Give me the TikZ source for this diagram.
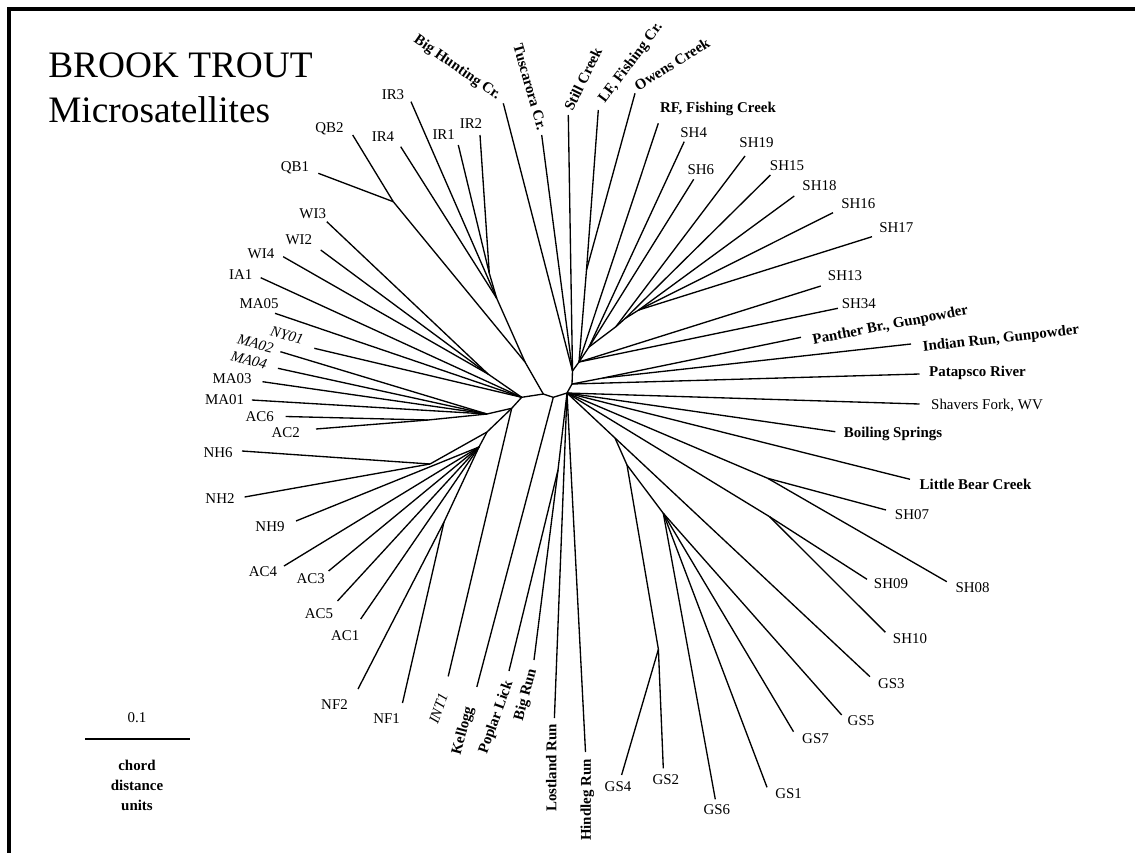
\documentclass[tikz,border=0pt]{standalone}
\usepackage{fontspec}
\setmainfont{Liberation Serif}
\usetikzlibrary{positioning}

\begin{document}
\begin{tikzpicture}[
    x=0.75pt, y=-0.75pt,
    branch/.style={line width=1pt, line join=round},
    lbl/.style={inner sep=0pt, font=\fontsize{11.2}{13}\selectfont},
    blbl/.style={lbl, font=\fontsize{11.2}{13}\selectfont\bfseries},
    ilbl/.style={lbl, font=\fontsize{11.2}{13}\selectfont\itshape},
    ttl/.style={inner sep=0pt, anchor=base west, font=\fontsize{28}{34}\selectfont}
]
    \useasboundingbox (0,0) rectangle (1135,853);
    \draw[line width=3pt] (9,853) -- (9,9) -- (1135,9);

    \node[ttl] (title) at (48,77) {BROOK TROUT};
    \node[ttl] (subtitle) at (48,122) {Microsatellites};

    % scale bar
    \node[lbl] (unit) at (137,718) {0.1};
    \coordinate (barl) at (85,739);
    \coordinate (barr) at (190,739);
    \draw[branch] (barl) -- (barr);
    \node[blbl, align=center, font=\fontsize{11.2}{15}\selectfont\bfseries] (units) at (137,785) {chord\\distance\\units};

    % inner nodes
    \coordinate (a) at (521.7,397.3);
    \coordinate (b) at (543.3,394);
    \coordinate (c) at (553.3,397.3);
    \coordinate (d) at (567,393);
    \coordinate (e) at (572,384);
    \coordinate (f) at (572.5,371);
    \coordinate (g) at (525,362);
    \coordinate (qb) at (393.3,201.7);
    \coordinate (ir) at (496.7,298.3);
    \coordinate (ir12) at (489.3,273.3);
    \coordinate (wi) at (488,374);
    \coordinate (l1) at (511.7,408.3);
    \coordinate (ma) at (487,414);
    \coordinate (ac26) at (428,420);
    \coordinate (n1) at (487,432);
    \coordinate (nh) at (430,464);
    \coordinate (n2) at (479,447);
    \coordinate (nf) at (444,522);
    \coordinate (pb) at (558,470);
    \coordinate (lo) at (586.5,270);
    \coordinate (f2) at (579,362);
    \coordinate (s1) at (589,347);
    \coordinate (s2) at (615.9,326.7);
    \coordinate (s3) at (625.4,318.3);
    \coordinate (s4) at (638.7,310);
    \coordinate (pi) at (603,378);
    \coordinate (sh78) at (767.7,478.3);
    \coordinate (sh910) at (769.6,516.7);
    \coordinate (g1) at (615,438);
    \coordinate (g2) at (627,465);
    \coordinate (g3) at (663.3,513.3);
    \coordinate (g24) at (658.4,649.3);

    \draw[branch] (a) -- (b) -- (c) -- (d) -- (e) -- (f);
    \draw[branch] (a) -- (wi);
    \draw[branch] (a) -- (l1);
    \draw[branch] (b) -- (g);
    \draw[branch] (g) -- (qb);
    \draw[branch] (g) -- (ir) -- (ir12);
    \draw[branch] (l1) -- (ma) -- (ac26);
    \draw[branch] (l1) -- (n1) -- (nh);
    \draw[branch] (n1) -- (n2) -- (nf);
    \draw[branch] (d) -- (pb);
    \draw[branch] (f) -- (f2) -- (lo);
    \draw[branch] (f2) -- (s1) -- (s2) -- (s3) -- (s4);
    \draw[branch] (e) -- (pi);
    \draw[branch] (d) -- (sh78);
    \draw[branch] (d) -- (sh910);
    \draw[branch] (d) -- (g1) -- (g2) -- (g3);
    \draw[branch] (g2) -- (g24);

    % upper left
    \coordinate (t-qb1) at (318.3,173.3); \node[lbl] (qb1) at (295,168) {QB1}; \draw[branch] (qb) -- (t-qb1);
    \coordinate (t-qb2) at (352.7,135); \node[lbl] (qb2) at (329.5,128.3) {QB2}; \draw[branch] (qb) -- (t-qb2);
    \coordinate (t-ir3) at (411,101.7); \node[lbl] (ir3) at (393,94.3) {IR3}; \draw[branch] (ir) -- (t-ir3);
    \coordinate (t-ir4) at (400.7,146.7); \node[lbl] (ir4) at (383,136.7) {IR4}; \draw[branch] (ir) -- (t-ir4);
    \coordinate (t-ir1) at (458.3,145); \node[lbl] (ir1) at (443.7,135) {IR1}; \draw[branch] (ir12) -- (t-ir1);
    \coordinate (t-ir2) at (480,135); \node[lbl] (ir2) at (471,123.3) {IR2}; \draw[branch] (ir12) -- (t-ir2);
    \coordinate (t-wi3) at (326.8,221.7); \node[lbl] (wi3) at (312.7,213.3) {WI3}; \draw[branch] (wi) -- (t-wi3);
    \coordinate (t-wi2) at (320.7,250); \node[lbl] (wi2) at (298.8,240) {WI2}; \draw[branch] (wi) -- (t-wi2);
    \coordinate (t-wi4) at (283.2,256.7); \node[lbl] (wi4) at (261,254) {WI4}; \draw[branch] (wi) -- (t-wi4);
    \coordinate (t-ia1) at (260.7,277.7); \node[lbl] (ia1) at (240.8,274.3) {IA1}; \draw[branch] (a) -- (t-ia1);
    \coordinate (t-ma05) at (275,313.3); \node[lbl] (ma05) at (259,303.3) {MA05}; \draw[branch] (a) -- (t-ma05);
    \coordinate (t-ny01) at (314.3,348.3); \node[ilbl, rotate=-15] (ny01) at (287,335.5) {NY01}; \draw[branch] (a) -- (t-ny01);
    \coordinate (t-ma02) at (280.4,351.7); \node[ilbl, rotate=-15] (ma02) at (255.4,343.5) {MA02}; \draw[branch] (ma) -- (t-ma02);
    \coordinate (t-ma04) at (277.9,368.3); \node[ilbl, rotate=-15] (ma04) at (249,360) {MA04}; \draw[branch] (ma) -- (t-ma04);
    \coordinate (t-ma03) at (262.5,381.7); \node[lbl] (ma03) at (232,378.3) {MA03}; \draw[branch] (ma) -- (t-ma03);
    \coordinate (t-ma01) at (251.8,400); \node[lbl] (ma01) at (224.5,400) {MA01}; \draw[branch] (ma) -- (t-ma01);
    \coordinate (t-ac6) at (285.7,416.5); \node[lbl] (ac6) at (259.8,416.5) {AC6}; \draw[branch] (ac26) -- (t-ac6);
    \coordinate (t-ac2) at (316,429); \node[lbl] (ac2) at (285.7,433) {AC2}; \draw[branch] (ac26) -- (t-ac2);

    % lower left
    \coordinate (t-nh6) at (242,451); \node[lbl] (nh6) at (218.2,453) {NH6}; \draw[branch] (nh) -- (t-nh6);
    \coordinate (t-nh2) at (244.6,497); \node[lbl] (nh2) at (220,498.6) {NH2}; \draw[branch] (nh) -- (t-nh2);
    \coordinate (t-nh9) at (296,521); \node[lbl] (nh9) at (270,527) {NH9}; \draw[branch] (n2) -- (t-nh9);
    \coordinate (t-ac4) at (284,566); \node[lbl] (ac4) at (263,571.8) {AC4}; \draw[branch] (n2) -- (t-ac4);
    \coordinate (t-ac3) at (328.6,571); \node[lbl] (ac3) at (310.7,579) {AC3}; \draw[branch] (n2) -- (t-ac3);
    \coordinate (t-ac5) at (337.5,601); \node[lbl] (ac5) at (319,614) {AC5}; \draw[branch] (n2) -- (t-ac5);
    \coordinate (t-ac1) at (360.7,619); \node[lbl] (ac1) at (345.2,635.4) {AC1}; \draw[branch] (n2) -- (t-ac1);
    \coordinate (t-nf2) at (358,689); \node[lbl] (nf2) at (334.5,704.6) {NF2}; \draw[branch] (nf) -- (t-nf2);
    \coordinate (t-nf1) at (402.5,703); \node[lbl] (nf1) at (386.6,718.6) {NF1}; \draw[branch] (nf) -- (t-nf1);
    \coordinate (t-int1) at (448.2,676.4); \node[ilbl, rotate=70] (int1) at (438.4,708.6) {INT1}; \draw[branch] (l1) -- (t-int1);
    \coordinate (t-kel) at (476.8,687); \node[blbl, rotate=75] (kel) at (463.4,731) {Kellogg}; \draw[branch] (c) -- (t-kel);
    \coordinate (t-pop) at (509,671); \node[blbl, rotate=70] (pop) at (496.4,717.5) {Poplar Lick}; \draw[branch] (pb) -- (t-pop);
    \coordinate (t-big) at (534,660); \node[blbl, rotate=75] (big) at (526,695) {Big Run}; \draw[branch] (pb) -- (t-big);
    \coordinate (t-los) at (554.4,718); \node[blbl, rotate=90] (los) at (551.4,768) {Lostland Run}; \draw[branch] (d) -- (t-los);
    \coordinate (t-hin) at (585.5,752); \node[blbl, rotate=90] (hin) at (587.4,800) {Hindleg Run}; \draw[branch] (d) -- (t-hin);

    % top
    \coordinate (t-bhc) at (503.3,103.3); \node[blbl, rotate=-35] (bhc) at (457,68) {Big Hunting Cr.}; \draw[branch] (f) -- (t-bhc);
    \coordinate (t-tus) at (541.7,135); \node[blbl, rotate=-74] (tus) at (530,87) {Tuscarora Cr.}; \draw[branch] (f) -- (t-tus);
    \coordinate (t-stc) at (568.3,115); \node[blbl, rotate=64] (stc) at (583,79) {Still Creek}; \draw[branch] (f) -- (t-stc);
    \coordinate (t-lfc) at (598.3,110); \node[blbl, rotate=53] (lfc) at (631,63) {LF, Fishing Cr.}; \draw[branch] (lo) -- (t-lfc);
    \coordinate (t-owc) at (635,93.3); \node[blbl, rotate=32] (owc) at (672,64) {Owens Creek}; \draw[branch] (lo) -- (t-owc);
    \coordinate (t-rfc) at (658.3,123.3); \node[blbl] (rfc) at (718,109) {RF, Fishing Creek}; \draw[branch] (f2) -- (t-rfc);

    % upper right
    \coordinate (t-sh4) at (684.2,141.7); \node[lbl] (sh4) at (693.7,132.3) {SH4}; \draw[branch] (s1) -- (t-sh4);
    \coordinate (t-sh6) at (693.7,179.3); \node[lbl] (sh6) at (700.8,170) {SH6}; \draw[branch] (s1) -- (t-sh6);
    \coordinate (t-sh19) at (745,156); \node[lbl] (sh19) at (756.5,142.7) {SH19}; \draw[branch] (s2) -- (t-sh19);
    \coordinate (t-sh15) at (770.4,175); \node[lbl] (sh15) at (787,166) {SH15}; \draw[branch] (s3) -- (t-sh15);
    \coordinate (t-sh18) at (794.3,196); \node[lbl] (sh18) at (819.5,186) {SH18}; \draw[branch] (s4) -- (t-sh18);
    \coordinate (t-sh16) at (833,212.7); \node[lbl] (sh16) at (858.3,203.3) {SH16}; \draw[branch] (s4) -- (t-sh16);
    \coordinate (t-sh17) at (872,236.7); \node[lbl] (sh17) at (896.4,227.7) {SH17}; \draw[branch] (s4) -- (t-sh17);
    \coordinate (t-sh13) at (820.8,286); \node[lbl] (sh13) at (845,276) {SH13}; \draw[branch] (f2) -- (t-sh13);
    \coordinate (t-sh34) at (837.9,308.3); \node[lbl] (sh34) at (858.8,303.3) {SH34}; \draw[branch] (f2) -- (t-sh34);
    \coordinate (t-pan) at (801,337.3); \node[blbl, rotate=11] (pan) at (890.5,325.8) {Panther Br., Gunpowder}; \draw[branch] (pi) -- (t-pan);
    \coordinate (t-ind) at (911,344); \node[blbl, rotate=6.4] (ind) at (1001,339.2) {Indian Run, Gunpowder}; \draw[branch] (pi) -- (t-ind);
    \coordinate (t-pat) at (919.5,374); \node[blbl] (pat) at (977.5,373.3) {Patapsco River}; \draw[branch] (e) -- (t-pat);

    % lower right
    \coordinate (t-shf) at (919.5,404); \node[lbl] (shf) at (987,405) {Shavers Fork, WV}; \draw[branch] (d) -- (t-shf);
    \coordinate (t-boil) at (835.3,431.7); \node[blbl] (boil) at (893,434) {Boiling Springs}; \draw[branch] (d) -- (t-boil);
    \coordinate (t-lbc) at (910,479.3); \node[blbl] (lbc) at (975.5,484) {Little Bear Creek}; \draw[branch] (d) -- (t-lbc);
    \coordinate (t-sh07) at (886,510); \node[lbl] (sh07) at (912,515) {SH07}; \draw[branch] (sh78) -- (t-sh07);
    \coordinate (t-sh08) at (946.8,581.7); \node[lbl] (sh08) at (972.6,587.3) {SH08}; \draw[branch] (sh78) -- (t-sh08);
    \coordinate (t-sh09) at (867,579.3); \node[lbl] (sh09) at (891,584) {SH09}; \draw[branch] (sh910) -- (t-sh09);
    \coordinate (t-sh10) at (885.4,632.3); \node[lbl] (sh10) at (910,638.3) {SH10}; \draw[branch] (sh910) -- (t-sh10);
    \coordinate (t-gs3) at (870,676.7); \node[lbl] (gs3) at (891.4,683.3) {GS3}; \draw[branch] (g1) -- (t-gs3);
    \coordinate (t-gs5) at (841.7,715); \node[lbl] (gs5) at (861,720.7) {GS5}; \draw[branch] (g3) -- (t-gs5);
    \coordinate (t-gs7) at (793.5,731.7); \node[lbl] (gs7) at (815.5,738.3) {GS7}; \draw[branch] (g3) -- (t-gs7);
    \coordinate (t-gs1) at (767,787.3); \node[lbl] (gs1) at (788.6,793.3) {GS1}; \draw[branch] (g3) -- (t-gs1);
    \coordinate (t-gs6) at (715.3,799.3); \node[lbl] (gs6) at (716.8,810) {GS6}; \draw[branch] (g3) -- (t-gs6);
    \coordinate (t-gs2) at (663.3,768.3); \node[lbl] (gs2) at (665.9,780) {GS2}; \draw[branch] (g24) -- (t-gs2);
    \coordinate (t-gs4) at (621.6,775); \node[lbl] (gs4) at (618,786.7) {GS4}; \draw[branch] (g24) -- (t-gs4);
\end{tikzpicture}
\end{document}
